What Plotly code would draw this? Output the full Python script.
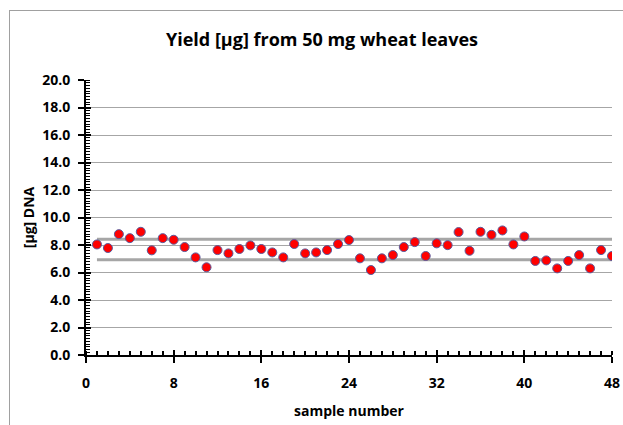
import plotly.graph_objects as go

sample_number = list(range(1, 49))
dna_yield = [8.04, 7.78, 8.79, 8.50, 8.96, 7.61, 8.50, 8.38, 7.85, 7.10,
             6.38, 7.63, 7.39, 7.71, 7.97, 7.71, 7.46, 7.10, 8.07, 7.39,
             7.46, 7.63, 8.07, 8.36, 7.03, 6.18, 7.03, 7.27, 7.85, 8.21,
             7.20, 8.12, 7.99, 8.94, 7.58, 8.96, 8.74, 9.06, 8.04, 8.62,
             6.84, 6.88, 6.30, 6.84, 7.27, 6.30, 7.63, 7.20]
band_x = [1, 48]
upper_band = [8.42, 8.42]
lower_band = [6.93, 6.93]

FONT = "Open Sans"
W, H = 623, 425
L, R, T, B = 86, 11, 80, 70
pw, ph = W - L - R, H - T - B


def px_x(x):
    return (x - L) / pw


def px_y(y):
    return (H - B - y) / ph


fig = go.Figure()
for band in (upper_band, lower_band):
    fig.add_trace(go.Scatter(x=band_x, y=band, mode="lines",
                             line=dict(color="#a6a6a6", width=3),
                             showlegend=False, hoverinfo="skip"))
fig.add_trace(go.Scatter(x=sample_number, y=dna_yield, mode="markers",
                         marker=dict(color="#ff0000", size=9,
                                     line=dict(color="#5b5b9c", width=1)),
                         showlegend=False))
fig.add_trace(go.Scatter(x=[None], y=[None], xaxis="x2", yaxis="y2", showlegend=False))

fig.update_layout(
    width=W, height=H,
    margin=dict(l=L, r=R, t=T, b=B, autoexpand=False),
    paper_bgcolor="white", plot_bgcolor="white",
    font=dict(family=FONT, color="black"),
    title=dict(text="<b>Yield [µg] from 50 mg wheat leaves</b>",
               x=322 / W, xanchor="center", y=1 - 40 / H, yanchor="middle",
               font=dict(family=FONT, size=18, color="black")),
    xaxis=dict(range=[0, 48], tickmode="linear", tick0=0, dtick=8,
               automargin=False,
               ticks="outside", ticklen=6, tickwidth=2, tickcolor="black",
               minor=dict(ticks="inside", dtick=1, tick0=0, ticklen=4,
                          tickwidth=1.5, tickcolor="black", showgrid=False),
               showline=True, linecolor="black", linewidth=2,
               showgrid=False, zeroline=False,
               tickfont=dict(family=FONT, size=14, color="black", weight="bold"),
               ticklabelstandoff=8,
               title=dict(text="<b>sample number</b>", standoff=15,
                          font=dict(family=FONT, size=14, color="black"))),
    yaxis=dict(range=[0, 20], tickmode="linear", tick0=0, dtick=2,
               tickformat=".1f", automargin=False,
               ticks="outside", ticklen=6, tickwidth=2, tickcolor="black",
               minor=dict(ticks="inside", dtick=0.2, tick0=0, ticklen=4,
                          tickwidth=1, tickcolor="black", showgrid=False),
               showline=True, linecolor="black", linewidth=2,
               showgrid=True, gridcolor="#a6a6a6", gridwidth=1,
               zeroline=False,
               tickfont=dict(family=FONT, size=14, color="black", weight="bold"),
               ticklabelstandoff=5,
               title=dict(text="<b>[µg] DNA</b>", standoff=4,
                          font=dict(family=FONT, size=14, color="black"))),
    xaxis2=dict(range=[0, 48], overlaying="x", anchor="y", side="bottom",
                tickmode="linear", tick0=0, dtick=8, ticks="inside",
                ticklen=5, tickwidth=2, tickcolor="black", automargin=False,
                showticklabels=False, showgrid=False, zeroline=False),
    yaxis2=dict(range=[0, 20], overlaying="y", anchor="x", side="left",
                tickmode="linear", tick0=0, dtick=2, ticks="inside",
                ticklen=5, tickwidth=2, tickcolor="black", automargin=False,
                showticklabels=False, showgrid=False, zeroline=False),
    shapes=[
        dict(type="line", xref="paper", yref="paper",
             x0=px_x(9.5), x1=px_x(9.5), y0=px_y(H + 5), y1=px_y(10),
             line=dict(color="#a0a0a0", width=1), layer="below"),
        dict(type="line", xref="paper", yref="paper",
             x0=px_x(9.5), x1=px_x(W + 5), y0=px_y(10.5), y1=px_y(10.5),
             line=dict(color="#a0a0a0", width=1), layer="below"),
    ],
)

fig.write_html("out.html",
               config={"displayModeBar": False},
               post_script="document.body.style.margin='0';"
                           "document.body.style.overflow='hidden';")
